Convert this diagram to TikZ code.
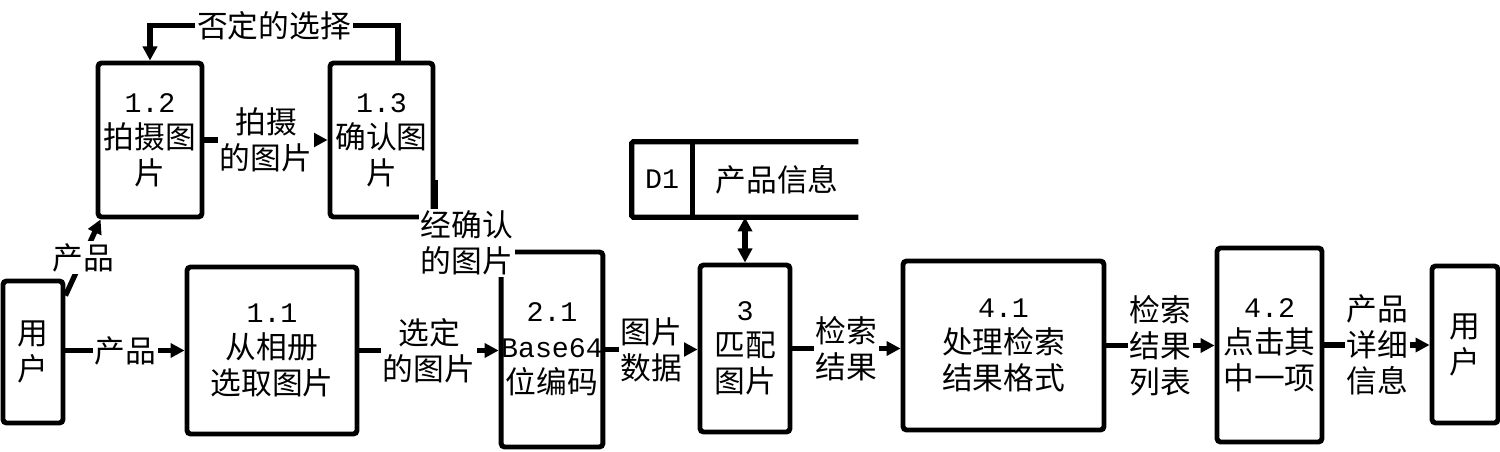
\documentclass[tikz,border=0pt]{standalone}
\usepackage{fontspec}
\setmainfont{Noto Sans CJK SC}
\newfontfamily\num[Scale=0.92]{Liberation Mono}
\usetikzlibrary{arrows.meta}

\begin{document}
\begin{tikzpicture}[x=0.02cm,y=-0.02cm,
  txt/.style={align=center,font=\fontsize{17.5}{20.5}\selectfont},
  box/.style={txt,draw,line width=2.8pt,rounded corners=2pt,inner sep=0pt},
  lab/.style={txt,fill=white,inner sep=1pt},
  flow/.style={line width=3pt,-{Triangle[length=8pt,width=8pt]}},
  dflow/.style={line width=3pt,{Triangle[length=8pt,width=8pt]}-{Triangle[length=8pt,width=8pt]}}]
  \useasboundingbox (0,0) rectangle (1500,452);
  \node[box,minimum width=1.2cm,minimum height=2.84cm] (user1) at (33,352) {用\\户};
  \node[box,minimum width=3.4cm,minimum height=3.34cm] (p11) at (272,350.5) {{\num 1.1}\\从相册\\选取图片};
  \node[box,minimum width=2.08cm,minimum height=3.08cm] (p12) at (150,140) {{\num 1.2}\\拍摄图\\片};
  \node[box,minimum width=2.06cm,minimum height=3.08cm] (p13) at (381.5,140) {{\num 1.3}\\确认图\\片};
  \node[box,minimum width=2cm,minimum height=3.9cm] (p21) at (552,349.5) {{\num 2.1}\\{\num Base64}\\位编码};
  \node[box,minimum width=1.8cm,minimum height=3.34cm] (p3) at (745,348.5) {{\num 3}\\匹配\\图片};
  \node[box,minimum width=4.02cm,minimum height=3.38cm] (p41) at (1003.5,345.5) {{\num 4.1}\\处理检索\\结果格式};
  \node[box,minimum width=2.1cm,minimum height=3.88cm] (p42) at (1269.5,345) {{\num 4.2}\\点击其\\中一项};
  \node[box,minimum width=1.32cm,minimum height=3.14cm] (user2) at (1465,344.5) {用\\户};
  \node[minimum width=4.52cm,minimum height=1.5cm] (store) at (745,179.5) {};
  \draw[line width=3pt,rounded corners=1pt] (store.north east) -- (store.north west) -- (store.south west) -- (store.south east);
  \draw[line width=3pt] ([xshift=1.22cm]store.north west) -- ([xshift=1.22cm]store.south west);
  \node[txt] (d1) at (662,179.5) {\num D1};
  \node[txt] (info) at (777,179.5) {产品信息};
  \draw[flow] (user1.east |- p11.west) -- (p11.west) node[lab,midway] {产品};
  \draw[flow] ([yshift=-0.34cm]user1.north east) -- ([xshift=0.1cm]p12.south west) node[lab,midway] {产品};
  \draw[flow] (p12.east) -- (p13.west) node[lab,midway] {拍摄\\的图片};
  \draw[flow] ([xshift=0.33cm]p13.north) -- ++(0,-35) -| (p12.north) node[lab,pos=0.25] {否定的选择};
  \draw[flow] ([yshift=-0.8cm]p13.east) |- ([yshift=-0.2cm]p21.north west) node[lab,pos=0.75,yshift=0.34cm] {经确认\\的图片};
  \draw[flow] (p11.east) -- (p11.east -| p21.west) node[lab,midway] {选定\\的图片};
  \draw[flow] (p21.east) -- (p21.east -| p3.west) node[lab,midway] {图片\\数据};
  \draw[dflow] (store.south) -- (p3.north);
  \draw[flow] (p3.east) -- (p3.east -| p41.west) node[lab,midway] {检索\\结果};
  \draw[flow] (p41.east) -- (p41.east -| p42.west) node[lab,midway] {检索\\结果\\列表};
  \draw[flow] (p42.east) -- (p42.east -| user2.west) node[lab,midway] {产品\\详细\\信息};
\end{tikzpicture}
\end{document}
